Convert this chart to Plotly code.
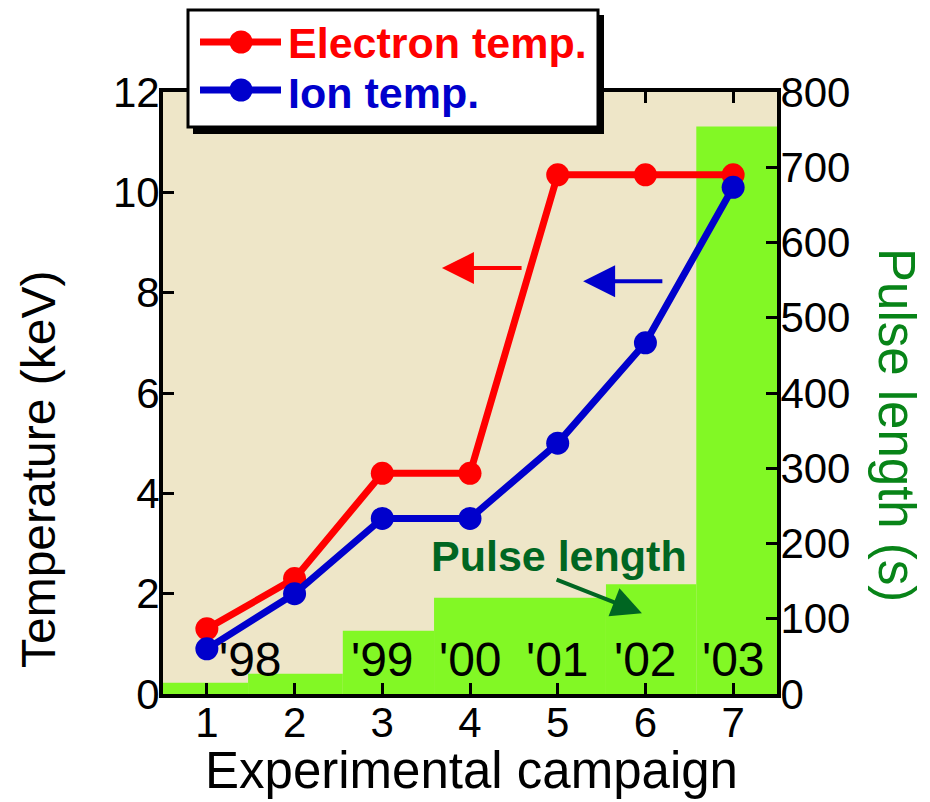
import plotly.graph_objects as go

# ---- data ----
campaigns = [1, 2, 3, 4, 5, 6, 7]
electron_temp = [1.3, 2.3, 4.4, 4.4, 10.35, 10.35, 10.35]
ion_temp = [0.9, 2.0, 3.5, 3.5, 5.0, 7.0, 10.1]

pulse_edges = [0.5, 1.47, 2.55, 3.59, 5.55, 6.58, 7.5]
pulse_length = [15, 27, 84, 128, 146, 754]

year_labels = ["'98", "'99", "'00", "'01", "'02", "'03"]
year_x = [1.5, 3, 4, 5, 6, 7]
year_y = 0.68

FONT = "Liberation Sans, Arial, sans-serif"
RED = "#FF0000"
BLUE = "#0000CC"
LIME = "#82F825"
BEIGE = "#EEE6C8"
DKGREEN = "#006622"
AXGREEN = "#088418"

# page is offset by the 8px body margin of the html page
OFF = 8
PW, PH = 930, 802
W, H = PW - OFF, PH - OFF
# plot-area edges in page pixels
L, R, T, B = 163, 777, 92, 694
def px(x):
    return (x - L) / (R - L)
def py(y):
    return (B - y) / (B - T)

centers = [(a + b) / 2 for a, b in zip(pulse_edges[:-1], pulse_edges[1:])]
widths = [b - a for a, b in zip(pulse_edges[:-1], pulse_edges[1:])]

fig = go.Figure()
fig.add_trace(go.Bar(x=centers, y=pulse_length, width=widths, marker=dict(color=LIME, line=dict(width=0)),
                     yaxis="y", showlegend=False, hoverinfo="skip"))
fig.add_trace(go.Scatter(x=campaigns, y=electron_temp, mode="lines+markers", yaxis="y2",
                         line=dict(color=RED, width=7), marker=dict(color=RED, size=23),
                         name="Electron temp.", showlegend=False))
fig.add_trace(go.Scatter(x=campaigns, y=ion_temp, mode="lines+markers", yaxis="y2",
                         line=dict(color=BLUE, width=7), marker=dict(color=BLUE, size=23),
                         name="Ion temp.", showlegend=False))

axis_common = dict(showline=True, linewidth=4, linecolor="black", ticks="inside", ticklen=11,
                   tickwidth=3, tickcolor="black", showgrid=False, zeroline=False,
                   tickfont=dict(family=FONT, size=42, color="black"))

fig.update_layout(
    width=W, height=H,
    margin=dict(l=L - OFF, r=W - (R - OFF), t=T - OFF, b=H - (B - OFF), autoexpand=False),
    paper_bgcolor="white", plot_bgcolor=BEIGE,
    font=dict(family=FONT),
    barmode="overlay",
    xaxis=dict(range=[0.5, 7.5], tickvals=campaigns, mirror="ticks", ticklabelstandoff=-11, **axis_common),
    yaxis=dict(range=[0, 800], dtick=100, side="right", ticklabelstandoff=-9, **axis_common),
    yaxis2=dict(range=[0, 12], dtick=2, side="left", overlaying="y", ticklabelstandoff=-9, **axis_common),
)

ann = []
# axis titles
ann.append(dict(text="Experimental campaign", xref="paper", yref="paper", x=px(471), y=py(770),
                showarrow=False, font=dict(family=FONT, size=51, color="black"),
                xanchor="center", yanchor="middle"))
ann.append(dict(text="Temperature (keV)", xref="paper", yref="paper", x=px(38), y=py(470),
                showarrow=False, textangle=-90, font=dict(family=FONT, size=48, color="black"),
                xanchor="center", yanchor="middle"))
ann.append(dict(text="Pulse length (s)", xref="paper", yref="paper", x=px(897), y=py(425),
                showarrow=False, textangle=90, font=dict(family=FONT, size=51, color=AXGREEN),
                xanchor="center", yanchor="middle"))
# year labels
for lab, xv in zip(year_labels, year_x):
    ann.append(dict(text=lab, x=xv, y=year_y, xref="x", yref="y2", showarrow=False,
                    font=dict(family=FONT, size=48, color="black"), xanchor="center", yanchor="middle"))
# arrows pointing to the left axis
ann.append(dict(text="", x=3.68, y=8.49, ax=4.605, ay=8.49, xref="x", yref="y2", axref="x", ayref="y2",
                showarrow=True, arrowhead=2, arrowsize=1.6, arrowwidth=4, arrowcolor=RED))
ann.append(dict(text="", x=5.29, y=8.23, ax=6.21, ay=8.23, xref="x", yref="y2", axref="x", ayref="y2",
                showarrow=True, arrowhead=2, arrowsize=1.6, arrowwidth=4, arrowcolor=BLUE))
# pulse length label + arrow
ann.append(dict(text="Pulse length", x=5.02, y=2.75, xref="x", yref="y2", showarrow=False,
                font=dict(family=FONT, size=43, color=DKGREEN, weight="bold"),
                xanchor="center", yanchor="middle"))
ann.append(dict(text="", x=5.96, y=1.61, ax=4.97, ay=2.29, xref="x", yref="y2", axref="x", ayref="y2",
                showarrow=True, arrowhead=2, arrowsize=1.5, arrowwidth=4, arrowcolor=DKGREEN))
# legend text
ann.append(dict(text="Electron temp.", xref="paper", yref="paper", x=px(286), y=py(43),
                showarrow=False, xanchor="left", yanchor="middle",
                font=dict(family=FONT, size=43, color=RED, weight="bold")))
ann.append(dict(text="Ion temp.", xref="paper", yref="paper", x=px(286), y=py(93),
                showarrow=False, xanchor="left", yanchor="middle",
                font=dict(family=FONT, size=43, color=BLUE, weight="bold")))
fig.update_layout(annotations=ann)

shapes = []
# legend box with drop shadow
shapes.append(dict(type="rect", xref="paper", yref="paper", x0=px(193), x1=px(604), y0=py(15), y1=py(134),
                   fillcolor="black", line=dict(width=0), layer="above"))
shapes.append(dict(type="rect", xref="paper", yref="paper", x0=px(188), x1=px(598), y0=py(10), y1=py(127),
                   fillcolor="white", line=dict(color="black", width=3), layer="above"))
for color, yy in [(RED, 42), (BLUE, 90)]:
    shapes.append(dict(type="line", xref="paper", yref="paper", x0=px(200), x1=px(281), y0=py(yy), y1=py(yy),
                       line=dict(color=color, width=7), layer="above"))
    shapes.append(dict(type="circle", xref="paper", yref="paper", xsizemode="pixel", ysizemode="pixel",
                       xanchor=px(241), yanchor=py(yy), x0=-11.5, x1=11.5, y0=-11.5, y1=11.5,
                       fillcolor=color, line=dict(width=0), layer="above"))
fig.update_layout(shapes=shapes)

fig.write_html("out.html")
